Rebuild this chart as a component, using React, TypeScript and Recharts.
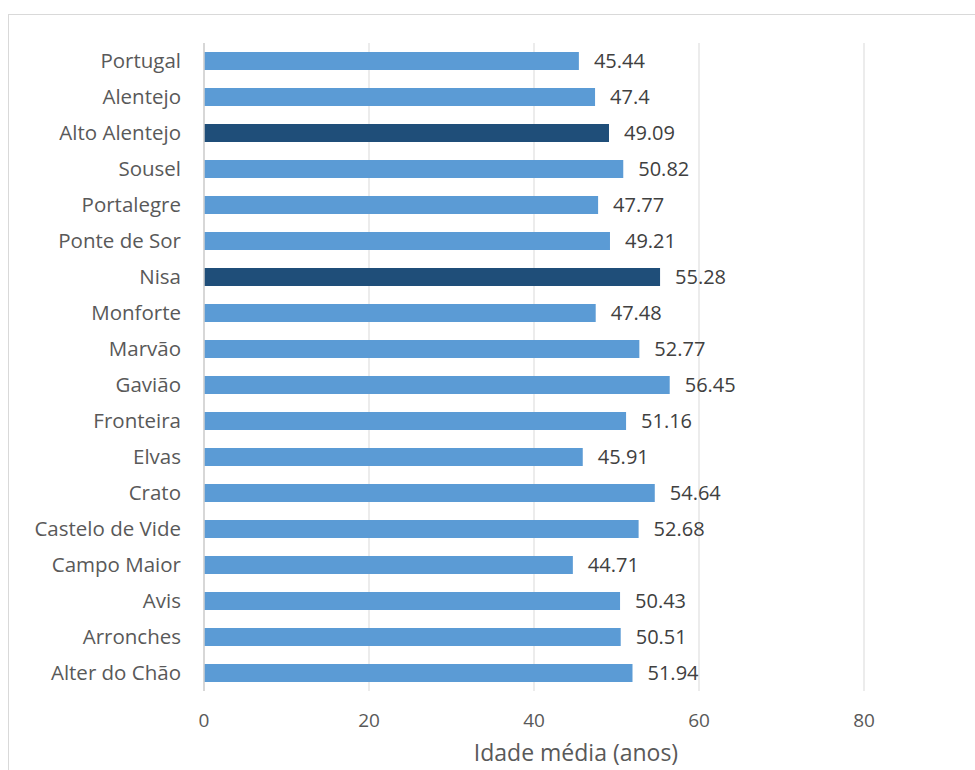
import React from "react";
import { BarChart, Bar, XAxis, YAxis, CartesianGrid, Cell, LabelList, Label } from "recharts";

const categories = [
  "Portugal", "Alentejo", "Alto Alentejo", "Sousel", "Portalegre", "Ponte de Sor",
  "Nisa", "Monforte", "Marvão", "Gavião", "Fronteira", "Elvas", "Crato",
  "Castelo de Vide", "Campo Maior", "Avis", "Arronches", "Alter do Chão",
];
const values = [
  45.44, 47.4, 49.09, 50.82, 47.77, 49.21, 55.28, 47.48, 52.77, 56.45, 51.16,
  45.91, 54.64, 52.68, 44.71, 50.43, 50.51, 51.94,
];
const highlighted = ["Alto Alentejo", "Nisa"];
const xTicks = [0, 20, 40, 60, 80];
const axisTitle = "Idade média (anos)";

const data = categories.map((name, i) => ({ name, value: values[i] }));

const FONT = "'Open Sans', 'Noto Sans', sans-serif";

export default function App() {
  return (
    <div style={{ position: "absolute", left: 0, top: 0, width: 975, height: 770, background: "#fff", overflow: "hidden" }}>
      <div
        style={{
          position: "absolute", left: 8, top: 14, width: 980, height: 780,
          border: "1px solid #d9d9d9", boxSizing: "border-box",
        }}
      />
      <div style={{ position: "absolute", left: 0, top: 0 }}>
        <BarChart
          width={975}
          height={770}
          data={data}
          layout="vertical"
          margin={{ top: 43, right: 111, left: 0, bottom: 0 }}
          barCategoryGap={0}
        >
          <CartesianGrid horizontal={false} vertical={true} stroke="#d9d9d9" strokeWidth={1} />
          <XAxis
            type="number"
            domain={[0, 80]}
            ticks={xTicks}
            axisLine={false}
            tickLine={false}
            tickSize={0}
            tickMargin={23}
            height={79}
            tick={{ fill: "#595959", fontSize: 19, fontFamily: FONT }}
          >
            <Label
              value={axisTitle}
              position="insideBottom"
              offset={9}
              dx={42}
              style={{ fill: "#595959", fontSize: 23, fontFamily: FONT }}
            />
          </XAxis>
          <YAxis
            type="category"
            dataKey="name"
            width={204}
            axisLine={{ stroke: "#d0d0d0", strokeWidth: 1.5 }}
            tickLine={false}
            tickSize={0}
            tickMargin={23}
            interval={0}
            tick={{ fill: "#595959", fontSize: 20.5, fontFamily: FONT }}
          />
          <Bar dataKey="value" barSize={18} isAnimationActive={false}>
            {data.map((d) => (
              <Cell key={d.name} fill={highlighted.includes(d.name) ? "#1F4E79" : "#5B9BD5"} />
            ))}
            <LabelList
              dataKey="value"
              position="right"
              offset={15}
              style={{ fill: "#404040", fontSize: 20, fontFamily: FONT }}
            />
          </Bar>
        </BarChart>
      </div>
    </div>
  );
}
